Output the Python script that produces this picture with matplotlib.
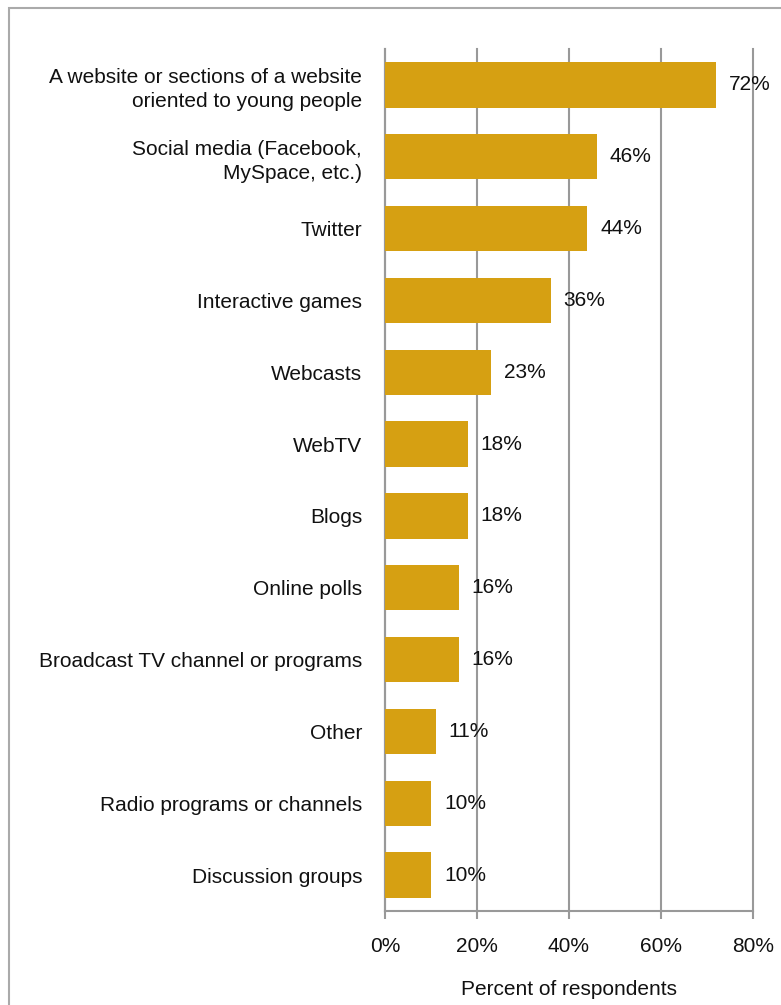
import matplotlib.pyplot as plt
from matplotlib.patches import Rectangle

# Survey results
categories = [
    "A website or sections of a website\noriented to young people",
    "Social media (Facebook,\nMySpace, etc.)",
    "Twitter",
    "Interactive games",
    "Webcasts",
    "WebTV",
    "Blogs",
    "Online polls",
    "Broadcast TV channel or programs",
    "Other",
    "Radio programs or channels",
    "Discussion groups",
]
percent = [72, 46, 44, 36, 23, 18, 18, 16, 16, 11, 10, 10]
xticks = [0, 20, 40, 60, 80]

plt.rcParams['font.family'] = ['Liberation Sans', 'DejaVu Sans']
fs = 15

fig = plt.figure(figsize=(7.81, 10.05), dpi=100)
W, H = 781, 1005
ax = fig.add_axes([385 / W, 1 - 911 / H, 368 / W, 862 / H])

grey = '#999999'
pos = list(range(len(categories)))
ax.barh(pos, percent, height=0.63, color='#D6A012', zorder=3)
ax.set_ylim(len(categories) - 0.5, -0.5)
ax.set_xlim(0, 80)

for y, v in zip(pos, percent):
    ax.annotate(f"{v}%", (v, y), xytext=(13, 0), textcoords='offset pixels',
                va='center', ha='left', fontsize=fs, color='#111111', zorder=4)

ax.set_yticks(pos)
ax.set_yticklabels(categories, fontsize=fs, color='#111111')
for lbl in ax.get_yticklabels():
    lbl.set_linespacing(1.35)
ax.tick_params(axis='y', length=0, pad=16.5)
ax.set_xticks(xticks)
ax.set_xticklabels([f"{t}%" for t in xticks], fontsize=fs, color='#111111')
ax.tick_params(axis='x', length=6, width=1.5, color=grey, pad=13)
ax.set_xlabel("Percent of respondents", fontsize=fs, color='#111111', labelpad=17)

ax.grid(axis='x', color=grey, linewidth=1.5, zorder=0)
for gl in ax.get_xgridlines():
    gl.set_clip_on(False)
for side in ['top', 'right']:
    ax.spines[side].set_visible(False)
for side in ['left', 'bottom']:
    ax.spines[side].set_color(grey)
    ax.spines[side].set_linewidth(1.5)

# frame around the chart area
fig.patches.append(Rectangle((9 / W, -0.1), 1.2, 1 - 8 / H + 0.1,
                             transform=fig.transFigure, fill=False,
                             edgecolor='#aaaaaa', linewidth=1.5))

fig.savefig('out.png', dpi=100)
